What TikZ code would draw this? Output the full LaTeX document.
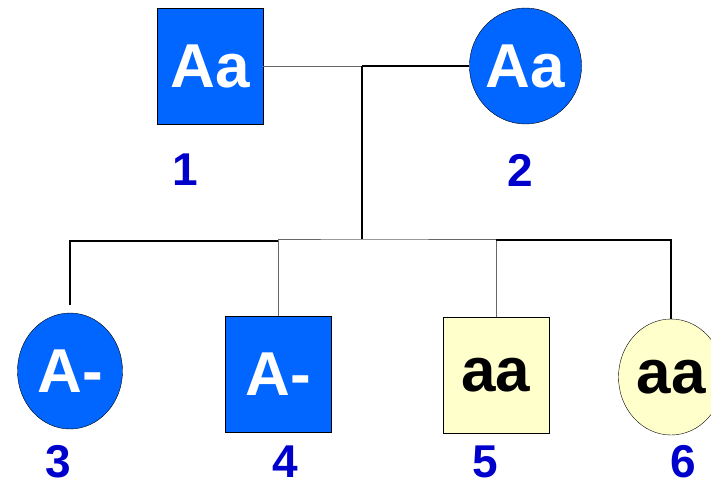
\documentclass[tikz,border=0pt]{standalone}
\usepackage{fontspec}
\setmainfont{Liberation Sans}
\usetikzlibrary{positioning,shapes.geometric}
\definecolor{azul}{RGB}{0,102,255}
\definecolor{crema}{RGB}{255,255,204}
\definecolor{numero}{RGB}{0,0,204}

\begin{document}
\begin{tikzpicture}[
  x=1pt, y=-1pt,
  varon/.style={draw, rectangle, minimum width=106pt, minimum height=116pt, inner sep=0pt, font=\fontsize{62}{62}\selectfont\bfseries},
  mujer/.style={draw, ellipse, minimum width=105pt, minimum height=116pt, inner sep=0pt, font=\fontsize{62}{62}\selectfont\bfseries},
  afectado/.style={fill=azul, text=white},
  sano/.style={fill=crema, text=black},
  num/.style={text=numero, font=\fontsize{46}{46}\selectfont\bfseries},
  linea/.style={line width=1.2pt, black},
  lineagris/.style={line width=1pt, black!60}
]
\useasboundingbox (0,0) rectangle (711,480);

% Padres
\node[varon, afectado] (p1) at (210,66) {Aa};
\node[mujer, afectado] (p2) at (525.5,66) {Aa};
\node[num] (n1) at (185,170) {1};
\node[num] (n2) at (520,170) {2};

% Hijos
\node[mujer, afectado] (h3) at (70,371) {A-};
\node[varon, afectado] (h4) at (278,374) {A-};
\node[varon, sano] (h5) at (496,375) {aa};
\node[mujer, sano] (h6) at (671,377) {aa};
\node[num] (n3) at (58,462) {3};
\node[num] (n4) at (285,462) {4};
\node[num] (n5) at (485,462) {5};
\node[num] (n6) at (683,462) {6};

% Lineas
\coordinate (union) at (362,66);
\coordinate (baja) at (362,239);
\coordinate (c3) at (70,305);
\draw[lineagris] (p1.east) -- (union);
\draw[linea] (union) -- (p2.west);
\draw[linea] (union) -- (baja);
\draw[linea] (c3) |- (h4.north |- 0,241);
\draw[lineagris] (h4.north) |- (baja) -| (h5.north);
\draw[linea] (h5.north |- 0,240) -| (h6.north);
\end{tikzpicture}
\end{document}
